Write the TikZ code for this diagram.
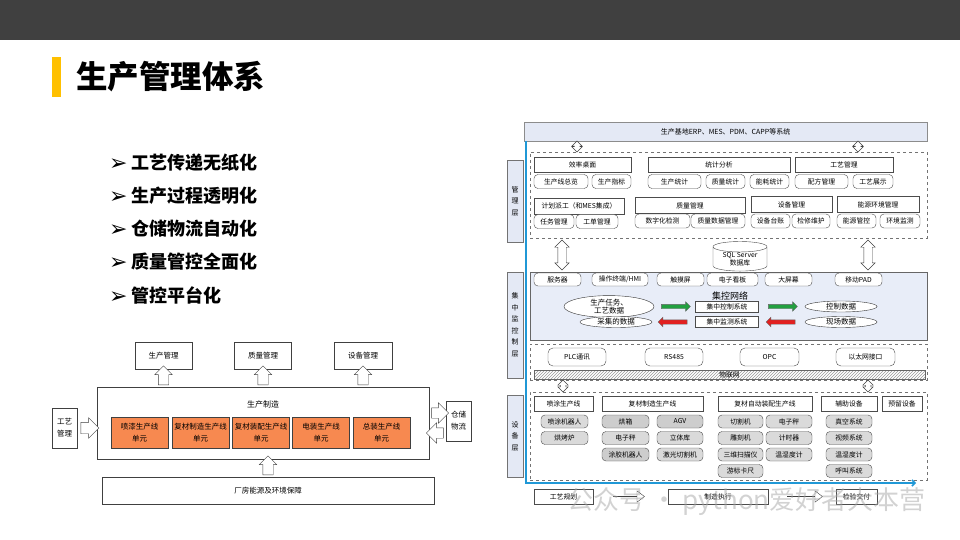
\documentclass[tikz,border=0pt]{standalone}
\usepackage{fontspec}
\setmainfont{Noto Sans CJK SC}
\newfontfamily\symfont{DejaVu Sans}
\usetikzlibrary{positioning,calc,shapes.geometric,shapes.arrows,patterns,arrows.meta}

\definecolor{bargray}{RGB}{64,64,64}
\definecolor{markyellow}{RGB}{255,192,0}
\definecolor{unitorange}{RGB}{247,137,80}
\definecolor{layerblue}{RGB}{228,233,245}
\definecolor{monblue}{RGB}{232,237,248}
\definecolor{flowblue}{RGB}{32,152,214}
\definecolor{okgreen}{RGB}{34,160,64}
\definecolor{badred}{RGB}{226,32,32}
\definecolor{devgray}{RGB}{218,218,218}
\definecolor{devdark}{RGB}{205,205,205}

\newcommand{\leftcn}{\fontsize{7.5}{12}\selectfont}
\newcommand{\rightcn}{\fontsize{6.8}{8}\selectfont}
\newcommand{\bulletmark}{\makebox[22pt][l]{\raisebox{-1pt}{\symfont\fontsize{22}{22}\selectfont ➢}}}

\tikzstyle{whitebox} = [rectangle,
                       draw=black!75,
                       fill=white,
                       inner sep=0pt,
                       align=center,
                       font=\leftcn]
\tikzstyle{unitcell} = [whitebox,
                       fill=unitorange,
                       minimum width=57pt,
                       minimum height=31pt]
\tikzstyle{hollowarrow} = [single arrow,
                          draw=black!75,
                          fill=white,
                          inner xsep=0pt,
                          inner ysep=5pt,
                          single arrow head extend=3.5pt,
                          minimum height=19pt,
                          sloped,
                          allow upside down]
\tikzstyle{headbox} = [rectangle,
                      draw=black!70,
                      fill=white,
                      inner sep=0pt,
                      minimum height=15pt,
                      font=\rightcn]
\tikzstyle{subbox} = [headbox,
                     rounded corners=4pt,
                     minimum height=14pt]
\tikzstyle{devbox} = [subbox,
                     fill=devgray,
                     minimum height=13pt]
\tikzstyle{zonebox} = [rectangle,
                      draw=black!55,
                      dashed,
                      inner sep=0pt]
\tikzstyle{layerbox} = [rectangle,
                       draw=black!55,
                       fill=layerblue,
                       inner sep=0pt,
                       minimum width=16pt,
                       align=center,
                       font=\fontsize{7}{11.5}\selectfont]
\tikzstyle{hollowdouble} = [double arrow,
                           draw=black!75,
                           fill=white,
                           inner xsep=0pt,
                           inner ysep=4pt,
                           double arrow head extend=3pt,
                           sloped,
                           allow upside down]
\tikzstyle{smalldouble} = [hollowdouble,
                          inner ysep=2.5pt,
                          double arrow head extend=2.5pt]
\tikzstyle{dataellipse} = [ellipse,
                          draw=black!80,
                          fill=white,
                          inner sep=0pt,
                          minimum width=72pt,
                          minimum height=11pt,
                          align=center,
                          font=\fontsize{7.5}{8.5}\selectfont]
\tikzstyle{flowarrow} = [single arrow,
                        draw=black!60,
                        inner xsep=0pt,
                        inner ysep=2pt,
                        minimum height=29pt,
                        single arrow head extend=2.5pt,
                        sloped,
                        allow upside down]
\tikzstyle{bulletitem} = [anchor=west,
                         inner sep=0pt,
                         font=\fontsize{18}{18}\selectfont\bfseries]
\tikzstyle{procline} = [draw=black!75,
                       -{Triangle[open, length=8pt, width=12pt]}]

\begin{document}
\begin{tikzpicture}[x=1pt, y=-1pt]
  \useasboundingbox (0,0) rectangle (960,540);
  \fill[bargray] (0,0) rectangle (960,40);
  \fill[markyellow] (52,57) rectangle (61,97);
  \node (title) [anchor=west, inner sep=0pt, font=\fontsize{31.5}{31.5}\selectfont\bfseries] at (76,77) {生产管理体系};

  % bullets
  \node (b1) [bulletitem] at (109,163) {\bulletmark 工艺传递无纸化};
  \node (b2) [bulletitem] at (109,196) {\bulletmark 生产过程透明化};
  \node (b3) [bulletitem] at (109,229) {\bulletmark 仓储物流自动化};
  \node (b4) [bulletitem] at (109,262) {\bulletmark 质量管控全面化};
  \node (b5) [bulletitem] at (109,295) {\bulletmark 管控平台化};

  % left diagram
  \node (scgl) [whitebox, minimum width=57pt, minimum height=27pt] at (163.5,355.5) {生产管理};
  \node (zlgl) [whitebox, minimum width=57pt, minimum height=27pt] at (263,355.5) {质量管理};
  \node (sbgl) [whitebox, minimum width=58pt, minimum height=27pt] at (363,355.5) {设备管理};
  \node (zz) [whitebox, minimum width=332pt, minimum height=72pt] at (263,423) {};
  \node (zzlabel) [inner sep=0pt, font=\fontsize{8}{8}\selectfont] at (263,404) {生产制造};
  \node (c1) [unitcell] at (139.5,432.5) {喷漆生产线\\单元};
  \node (c2) [unitcell] at (200.5,432.5) {复材制造生产线\\单元};
  \node (c3) [unitcell] at (261,432.5) {复材装配生产线\\单元};
  \node (c4) [unitcell] at (321,432.5) {电装生产线\\单元};
  \node (c5) [unitcell] at (381.5,432.5) {总装生产线\\单元};
  \node (gy) [whitebox, minimum width=25pt, minimum height=40pt] at (64.5,428) {工艺\\管理};
  \node (cc) [whitebox, minimum width=25pt, minimum height=40pt] at (458.5,421) {仓储\\物流};
  \node (cf) [whitebox, minimum width=332pt, minimum height=27pt] at (268,490.5) {厂房能源及环境保障};
  \path (zz.north -| scgl) -- node[hollowarrow] {} (scgl.south);
  \path (zz.north -| zlgl) -- node[hollowarrow] {} (zlgl.south);
  \path (zz.north -| sbgl) -- node[hollowarrow] {} (sbgl.south);
  \path (cf.north) -- node[hollowarrow] {} (cf.north |- zz.south);
  \path (gy.east) -- node[hollowarrow, minimum height=18pt, inner ysep=5.5pt, single arrow head extend=4.5pt] {} (gy.east -| zz.west);
  \path ([yshift=8pt]cc.west -| zz.east) -- node[hollowarrow, minimum height=17pt, single arrow head extend=5pt] {} ([yshift=8pt]cc.west);
  \path ([yshift=-12pt]cc.west) -- node[hollowarrow, minimum height=17pt, single arrow head extend=5pt] {} ([yshift=-12pt]cc.west -| zz.east);

  % right diagram
  \node (erp) [headbox, fill=layerblue, draw=black!45, minimum width=403pt, minimum height=19pt, font=\fontsize{7}{8}\selectfont] at (725.5,131.5) {生产基地ERP、MES、PDM、CAPP等系统};

  \node (mgmt) [zonebox, minimum width=397pt, minimum height=86pt] at (728.5,195) {};
  \node (lmgmt) [layerbox, minimum height=82pt] at (515,201) {管\\理\\层};
  \node (xlzm) [headbox, minimum width=97pt] at (582.5,164.5) {效率桌面};
  \node (tjfx) [headbox, minimum width=142pt] at (719,164.5) {统计分析};
  \node (gygl) [headbox, minimum width=98pt] at (844,164.5) {工艺管理};
  \node (scxzl) [subbox, minimum width=54pt] at (561,181.5) {生产线总览};
  \node (sczb) [subbox, minimum width=39pt] at (611.5,181.5) {生产指标};
  \node (sctj) [subbox, minimum width=53pt] at (674.5,181.5) {生产统计};
  \node (zltj) [subbox, minimum width=39pt] at (725.5,181.5) {质量统计};
  \node (nhtj) [subbox, minimum width=39pt] at (769.5,181.5) {能耗统计};
  \node (pfgl) [subbox, minimum width=53pt] at (821.5,181.5) {配方管理};
  \node (gyzs) [subbox, minimum width=40pt] at (873,181.5) {工艺展示};
  \node (jhpg) [headbox, minimum width=90pt, minimum height=16pt] at (579,206) {计划派工（和MES集成）};
  \node (zlgl2) [headbox, minimum width=110pt, minimum height=16pt] at (690,205.5) {质量管理};
  \node (sbgl2) [headbox, minimum width=81pt, minimum height=16pt] at (791.5,204.5) {设备管理};
  \node (nyhj) [headbox, minimum width=82pt, minimum height=16pt] at (878,204.5) {能源环境管理};
  \node (rwgl) [subbox, minimum width=40pt] at (554,221.5) {任务管理};
  \node (gdgl) [subbox, minimum width=42pt] at (597,221.5) {工单管理};
  \node (szhjc) [subbox, minimum width=55pt] at (662.5,221) {数字化检测};
  \node (zlsj) [subbox, minimum width=54pt] at (718,221) {质量数据管理};
  \node (sbtz) [subbox, minimum width=39pt] at (770.5,221) {设备台账};
  \node (jxwh) [subbox, minimum width=38pt] at (811,221) {检修维护};
  \node (nygk) [subbox, minimum width=39pt] at (856.5,221) {能源管控};
  \node (hjjc) [subbox, minimum width=40pt] at (900,221) {环境监测};

  \node (mon) [rectangle, draw=black!60, fill=monblue, minimum width=397pt, minimum height=68pt] at (728.5,306) {};
  \node (lmon) [layerbox, minimum height=106pt] at (515,325) {集\\中\\监\\控\\制\\层};
  \node (sql) [cylinder, shape border rotate=90, aspect=0.3, draw=black!70, fill=white, inner sep=0pt, minimum width=54pt, minimum height=27pt, align=center, font=\fontsize{6.8}{8}\selectfont] at (740,259) {SQL Server\\数据库};
  \node (fwq) [subbox, minimum width=47pt, minimum height=13pt] at (557.5,279.5) {服务器};
  \node (hmi) [subbox, minimum width=56pt, minimum height=13pt] at (620,279.5) {操作终端/HMI};
  \node (cmp) [subbox, minimum width=47pt, minimum height=13pt] at (680.5,279.5) {触摸屏};
  \node (dzkb) [subbox, minimum width=51pt, minimum height=13pt] at (732.5,279.5) {电子看板};
  \node (dpm) [subbox, minimum width=47pt, minimum height=13pt] at (788.5,279.5) {大屏幕};
  \node (pad) [subbox, minimum width=47pt, minimum height=13pt] at (858.5,279.5) {移动PAD};
  \node (jkwl) [inner sep=0pt, font=\fontsize{9}{9}\selectfont] at (730,296) {集控网络};
  \node (e1) [dataellipse, minimum width=90pt, minimum height=18pt] at (609,306.5) {生产任务、\\工艺数据};
  \node (e2) [dataellipse] at (616,322) {采集的数据};
  \node (k1) [headbox, minimum width=63pt, minimum height=11pt] at (727,306.5) {集中控制系统};
  \node (k2) [headbox, minimum width=63pt, minimum height=11pt] at (727,322) {集中监测系统};
  \node (e3) [dataellipse] at (841,306.5) {控制数据};
  \node (e4) [dataellipse] at (841,322) {现场数据};
  \path (e1.east) -- node[flowarrow, fill=okgreen] {} (k1.west);
  \path (k1.east) -- node[flowarrow, fill=okgreen] {} (e3.west);
  \path (k2.west) -- node[flowarrow, fill=badred] {} (e2.east);
  \path (e4.west) -- node[flowarrow, fill=badred] {} (k2.east);

  \node (net) [zonebox, minimum width=397pt, minimum height=36pt] at (728.5,362) {};
  \node (plc) [subbox, rounded corners=5pt, minimum width=58pt, minimum height=18pt] at (577,357) {PLC通讯};
  \node (rs) [subbox, rounded corners=5pt, minimum width=58pt, minimum height=18pt] at (674,357) {RS485};
  \node (opc) [subbox, rounded corners=5pt, minimum width=59pt, minimum height=18pt] at (769.5,357) {OPC};
  \node (eth) [subbox, rounded corners=5pt, minimum width=59pt, minimum height=18pt] at (865.5,357) {以太网接口};
  \node (iot) [rectangle, draw=black!60, pattern=north east lines, pattern color=black!40, inner sep=0pt, minimum width=391pt, minimum height=9pt, font=\rightcn] at (729.5,374.5) {物联网};

  \node (dev) [zonebox, minimum width=397pt, minimum height=88pt] at (728.5,436) {};
  \node (ldev) [layerbox, minimum height=82pt] at (515,436) {设\\备\\层};
  \node (ptx) [headbox, minimum width=59pt] at (563.5,403.5) {喷涂生产线};
  \node (fczz) [headbox, minimum width=101pt] at (652.5,403.5) {复材制造生产线};
  \node (fczp) [headbox, minimum width=94pt] at (765,403.5) {复材自动装配生产线};
  \node (fzsb) [headbox, minimum width=56pt] at (849,403.5) {辅助设备};
  \node (ylsb) [headbox, minimum width=40pt] at (902,403.5) {预留设备};
  \node (ptjqr) [devbox, minimum width=47pt] at (564.5,421.5) {喷涂机器人};
  \node (hkl) [devbox, minimum width=47pt] at (564.5,438) {烘烤炉};
  \node (hx) [devbox, fill=devdark, minimum width=47pt] at (625.5,421.5) {烘箱};
  \node (dzc1) [devbox, minimum width=47pt] at (625.5,438) {电子秤};
  \node (tjjqr) [devbox, fill=devdark, minimum width=47pt] at (625.5,454.5) {涂胶机器人};
  \node (agv) [devbox, fill=devdark, minimum width=46pt] at (680,421.5) {AGV};
  \node (ltk) [devbox, minimum width=46pt] at (680,438) {立体库};
  \node (jgqg) [devbox, minimum width=46pt] at (680,454.5) {激光切割机};
  \node (qgj) [devbox, minimum width=45pt] at (740.5,421.5) {切割机};
  \node (dkj) [devbox, minimum width=45pt] at (740.5,438) {雕刻机};
  \node (swsm) [devbox, minimum width=45pt] at (740.5,454.5) {三维扫描仪};
  \node (ybkc) [devbox, minimum width=45pt] at (740.5,471) {游标卡尺};
  \node (dzc2) [devbox, minimum width=46pt] at (789,421.5) {电子秤};
  \node (jsq) [devbox, minimum width=46pt] at (789,438) {计时器};
  \node (wsd1) [devbox, minimum width=46pt] at (789,454.5) {温湿度计};
  \node (zkxt) [devbox, minimum width=46pt] at (849,421.5) {真空系统};
  \node (spxt) [devbox, minimum width=46pt] at (849,438) {视频系统};
  \node (wsd2) [devbox, minimum width=46pt] at (849,454.5) {温湿度计};
  \node (hjxt) [devbox, minimum width=46pt] at (849,471) {呼叫系统};

  \path (erp.south -| 577,0) -- node[smalldouble, minimum height=11pt] {} (mgmt.north -| 577,0);
  \path (erp.south -| 858,0) -- node[smalldouble, minimum height=11pt] {} (mgmt.north -| 858,0);
  \path (mgmt.south -| 562,0) -- node[hollowdouble, minimum height=30pt] {} (mon.north -| 562,0);
  \path (mgmt.south -| 868,0) -- node[hollowdouble, minimum height=30pt] {} (mon.north -| 868,0);
  \path (net.south -| 563,0) -- node[smalldouble, minimum height=12pt] {} (dev.north -| 563,0);
  \path (net.south -| 868,0) -- node[smalldouble, minimum height=12pt] {} (dev.north -| 868,0);

  \coordinate (flowend) at (916,483);
  \draw[flowblue, line width=1.5pt, -{Straight Barb[length=3pt, width=6pt]}] (erp.south -| 526,0) |- (flowend);

  \node (gygh) [headbox, minimum width=59pt] at (563.5,496.5) {工艺规划};
  \node (zzzx) [headbox, minimum width=100pt] at (718,496.5) {制造执行};
  \node (jyjf) [headbox, minimum width=41pt] at (856.5,496.5) {检验交付};
  \draw[procline, shorten <=20pt, shorten >=23pt] (gygh) -- (zzzx);
  \draw[procline, shorten <=19pt, shorten >=13pt] (zzzx) -- (jyjf);

  % watermark over the lower right corner
  \node (wm) [anchor=west, inner sep=0pt, text=black!35, opacity=0.5, font=\fontsize{26}{26}\selectfont] at (567,502) {公众号 · python爱好者大本营};
\end{tikzpicture}
\end{document}
